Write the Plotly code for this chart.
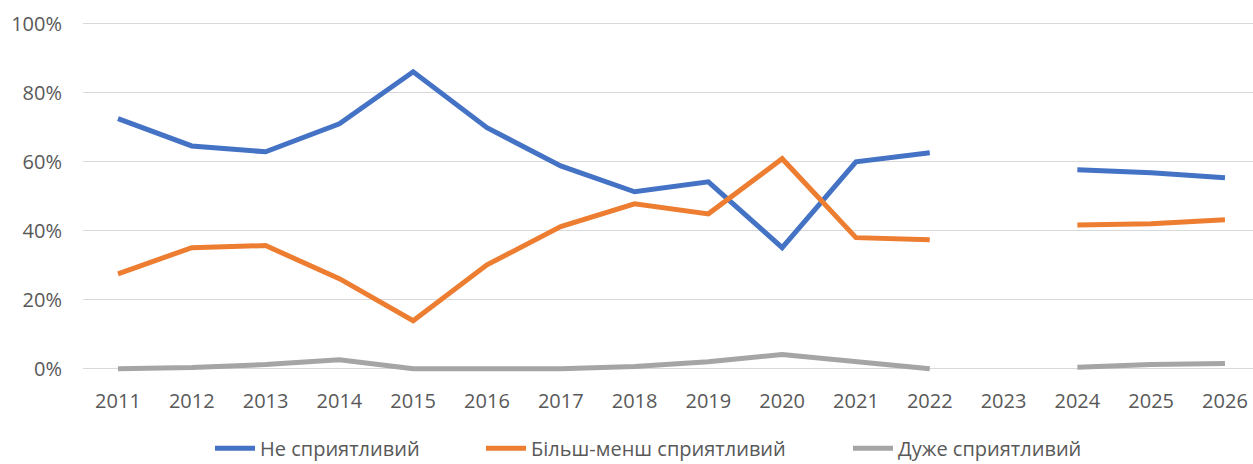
import plotly.graph_objects as go

# Survey years (2023 has no data)
years = [2011, 2012, 2013, 2014, 2015, 2016, 2017, 2018, 2019, 2020,
         2021, 2022, 2023, 2024, 2025, 2026]

# Shares of respondents by answer
not_friendly = [0.725, 0.646, 0.629, 0.710, 0.861, 0.699, 0.588, 0.513, 0.542, 0.351,
                0.600, 0.626, None, 0.577, 0.568, 0.554]
somewhat_friendly = [0.275, 0.351, 0.357, 0.261, 0.139, 0.301, 0.412, 0.478, 0.449, 0.609,
                     0.380, 0.374, None, 0.417, 0.420, 0.432]
very_friendly = [0.000, 0.003, 0.012, 0.026, 0.000, 0.000, 0.000, 0.006, 0.020, 0.041,
                 0.020, 0.000, None, 0.004, 0.012, 0.015]

series = [
    ("Не сприятливий", not_friendly, "#4472C4", "legend"),
    ("Більш-менш сприятливий", somewhat_friendly, "#ED7D31", "legend2"),
    ("Дуже сприятливий", very_friendly, "#A5A5A5", "legend3"),
]

fig = go.Figure()
for name, values, color, legend_id in series:
    fig.add_trace(go.Scatter(
        x=years, y=values, name=name, mode="lines",
        line=dict(color=color, width=5),
        connectgaps=False,
        legend=legend_id,
    ))

font_family = "Open Sans, Liberation Sans, sans-serif"
text_color = "#595959"


def legend_at(x):
    # one legend box per series, spread along the bottom
    return dict(
        orientation="h",
        xref="container", yref="container",
        x=x, xanchor="left",
        y=0.034, yanchor="middle",
        font=dict(size=20, color=text_color),
        itemwidth=40,
        bgcolor="rgba(0,0,0,0)",
    )


fig.update_layout(
    width=1253, height=464,
    margin=dict(l=83, r=0, t=17, b=85, autoexpand=False),
    paper_bgcolor="white",
    plot_bgcolor="white",
    font=dict(family=font_family, size=20, color=text_color),
    showlegend=True,
    legend=legend_at(210 / 1253),
    legend2=legend_at(481 / 1253),
    legend3=legend_at(848 / 1253),
    xaxis=dict(
        tickmode="array",
        tickvals=years,
        ticktext=[str(y) for y in years],
        range=[2010.526, 2026.38],
        showgrid=False,
        zeroline=False,
        showline=False,
        ticks="",
        ticklabelstandoff=8,
        tickfont=dict(size=20, color=text_color),
    ),
    yaxis=dict(
        range=[-0.03, 1.02],
        tickmode="array",
        tickvals=[0, 0.2, 0.4, 0.6, 0.8, 1.0],
        ticktext=["0%", "20%", "40%", "60%", "80%", "100%"],
        showgrid=True,
        gridcolor="#D9D9D9",
        gridwidth=1.3,
        zeroline=False,
        showline=False,
        ticks="",
        ticklabelstandoff=20,
        tickfont=dict(size=20, color=text_color),
    ),
)

fig.write_html("out.html")
